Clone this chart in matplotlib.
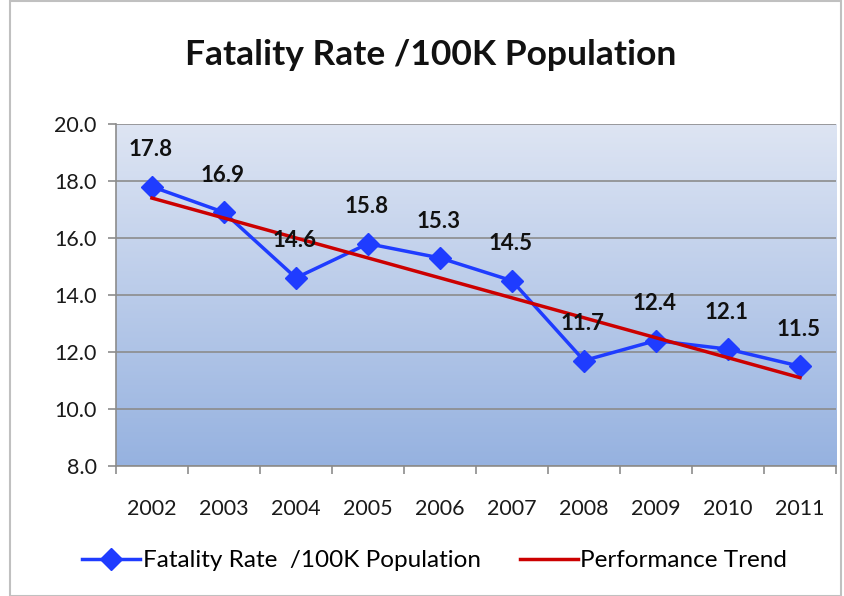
import numpy as np
import matplotlib.pyplot as plt
from matplotlib.patches import Rectangle

# --- data ---
years = ["2002", "2003", "2004", "2005", "2006", "2007", "2008", "2009", "2010", "2011"]
fatality_rate = [17.8, 16.9, 14.6, 15.8, 15.3, 14.5, 11.7, 12.4, 12.1, 11.5]
trend_years = [0, 9]          # first and last category index
trend_values = [17.4, 11.1]   # performance trend endpoints

plt.rcParams['font.family'] = ['Lato', 'DejaVu Sans']

fig = plt.figure(figsize=(8.44, 5.96), dpi=100)
ax = fig.add_axes([0.1374, 0.2181, 0.8531, 0.5739])

# gradient plot area, light at top, bluer at bottom
top = np.array([222, 229, 243]) / 255
bot = np.array([150, 178, 224]) / 255
t = np.linspace(0, 1, 256)[:, None]
grad = (top * (1 - t) + bot * t)[:, None, :]
ax.imshow(grad, extent=[0, 1, 0, 1], transform=ax.transAxes, aspect='auto', zorder=0)

x = np.arange(len(years))
ax.set_xlim(-0.5, len(years) - 0.5)
ax.set_ylim(8, 20)
ax.set_yticks(np.arange(8, 20.1, 2))
ax.set_yticklabels([f"{v:.1f}" for v in np.arange(8, 20.1, 2)])
ax.yaxis.grid(True, color='#8c8c8c', linewidth=1.2, zorder=1)
ax.set_axisbelow(False)

ax.set_xticks(x)
ax.set_xticklabels(years)
ax.set_xticks(np.arange(-0.5, len(years), 1), minor=True)
ax.tick_params(axis='x', which='major', length=0, pad=24, labelsize=15.5, labelcolor='#1a1a1a')
ax.tick_params(axis='x', which='minor', length=6, color='#8c8c8c', width=1.2)
ax.tick_params(axis='y', length=6, color='#8c8c8c', width=1.2, labelsize=15.5, pad=8,
               labelcolor='#1a1a1a')

for s in ['top', 'right']:
    ax.spines[s].set_visible(False)
for s in ['left', 'bottom']:
    ax.spines[s].set_color('#8c8c8c')
    ax.spines[s].set_linewidth(1.2)

line_fat, = ax.plot(x, fatality_rate, color='#1f3cff', linewidth=2.5, marker='D',
                    markersize=11, zorder=3, label='Fatality Rate  /100K Population')
line_trend, = ax.plot(trend_years, trend_values, color='#cc0000', linewidth=2.5, zorder=4,
                      label='Performance Trend')

for xi, v in zip(x, fatality_rate):
    ax.annotate(f"{v:.1f}", (xi, v), xytext=(-1, 19), textcoords='offset points',
                ha='center', va='bottom', fontsize=16, fontweight='bold', color='#111111', zorder=5)

fig.text(0.51, 0.908, "Fatality Rate /100K Population", ha='center', va='center',
         fontsize=25.5, fontweight='bold', color='#111111')

fig.legend(handles=[line_fat, line_trend], loc='center', bbox_to_anchor=(0.515, 0.059),
           ncol=2, frameon=False, fontsize=17.5, handlelength=2.4, columnspacing=1.6,
           handletextpad=0.1)

fig.patches.append(Rectangle((0.012, 0.0), 0.985, 0.998, transform=fig.transFigure,
                             fill=False, edgecolor='#c0c0c0', linewidth=1.5))

fig.savefig("out.png", dpi=100)
